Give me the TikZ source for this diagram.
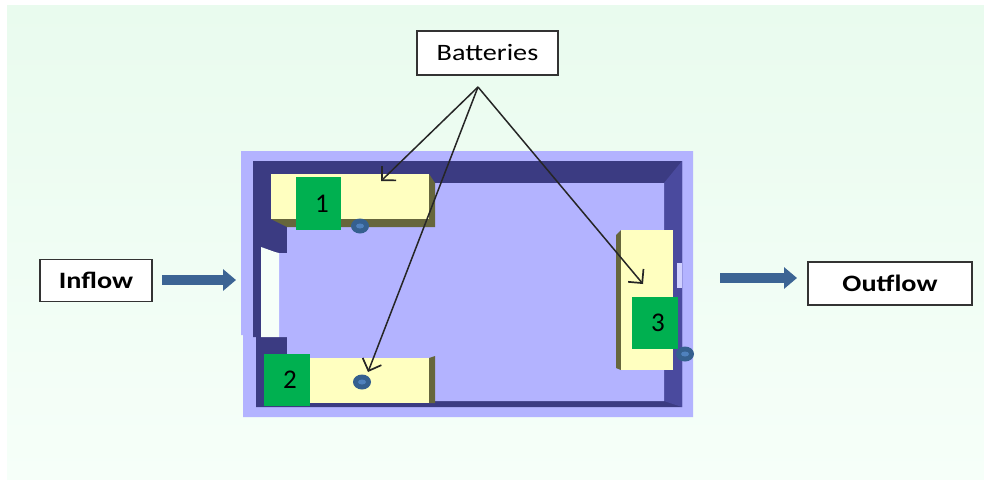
\documentclass[tikz,border=0pt]{standalone}
\usepackage{fontspec}
\usepackage{tikz}
\newfontfamily\labelfont[FakeStretch=1.2]{Carlito}
\setmainfont{Carlito}
\usetikzlibrary{
  arrows.meta,
  positioning,
  shapes.geometric}
\definecolor{floorblue}{HTML}{B3B3FF}
\definecolor{walldark}{HTML}{3B3B82}
\definecolor{wallright}{HTML}{4A4A9E}
\definecolor{batyellow}{HTML}{FFFFC0}
\definecolor{batshade}{HTML}{66663C}
\definecolor{numgreen}{HTML}{00B050}
\definecolor{flowblue}{HTML}{3C6494}
\definecolor{portblue}{HTML}{35608F}
\definecolor{portlight}{HTML}{4F81BD}
\definecolor{panelgreen}{HTML}{E9FBEE}
\definecolor{panelpale}{HTML}{F6FFF9}
\tikzset{
  labelbox/.style={draw=black!80,line width=1.6pt,fill=white,inner sep=0pt,font=\labelfont\fontsize{23.5}{25}\selectfont},
  numbox/.style={fill=numgreen,inner sep=0pt,font=\fontsize{27}{29}\selectfont},
  port/.style={ellipse,fill=portblue,inner sep=0pt,minimum width=18pt,minimum height=15pt},
  flowarrow/.style={draw=flowblue,line width=10pt,-{Triangle[length=13pt,width=21pt]}},
  pointer/.style={draw=black!85,line width=1.5pt,-{Straight Barb[length=10pt,width=20pt,line width=1.7pt]}}
}
\begin{document}
\begin{tikzpicture}[x=1pt,y=-1pt]
            \useasboundingbox (0,0) rectangle (984,479);
            \shade[top color=panelgreen,bottom color=panelpale] (7,5) rectangle (984,479);
            % tank
            \fill[floorblue] (241,151)--(693,151)--(693,417)--(243,417)--(243,335)--(241,335)--cycle;
            \fill[walldark] (253,161)--(682,161)--(682,407)--(256,407)--(256,337)--(253,337)--cycle;
            \fill[wallright] (664,183)--(682,161)--(682,407)--(664,401)--cycle;
            \fill[floorblue] (287,183)--(664,183)--(664,401)--(287,401)--(287,337)--(279,337)--(279,253)--(287,253)--cycle;
            \fill[panelpale] (261,247)--(275,252)--(279,253)--(279,337)--(261,337)--cycle;
            \fill[floorblue!60!white] (677,263) rectangle (682,288);
            % batteries
            \fill[batshade] (429,174)--(435,183)--(435,227)--(287,227)--(271,219)--cycle;
            \fill[batyellow] (271,174) rectangle (429,219);
            \fill[batshade] (429,358)--(435,356)--(435,403)--(429,403)--cycle;
            \fill[batyellow] (290,358) rectangle (429,403);
            \fill[batshade] (621,230)--(616,235)--(616,368)--(621,370)--cycle;
            \fill[batyellow] (621,230) rectangle (673,370);
            \node[numbox,minimum width=45pt,minimum height=53pt] (num1) at (318.5,203.5) {\hspace{7pt}1};
            \node[numbox,minimum width=46pt,minimum height=52pt] (num2) at (287,380) {\hspace{6pt}2};
            \node[numbox,minimum width=46pt,minimum height=52pt] (num3) at (655,323) {\hspace{6pt}3};
            \foreach \name/\px/\py in {port1/360/226,port2/362/382,port3/685/354}{
                \node[port] (\name) at (\px,\py) {};
                \fill[portlight] (\name) ellipse (4pt and 2.5pt);
            }
            % labels
            \node[labelbox,minimum width=141pt,minimum height=44pt] (batteries) at (487.5,53) {Batteries};
            \node[labelbox,minimum width=112pt,minimum height=42pt] (inflow) at (96,280.5) {\bfseries Inflow};
            \node[labelbox,minimum width=164pt,minimum height=43pt] (outflow) at (890,283.5) {\bfseries Outflow};
            \coordinate (inflowstart) at (162,280);
            \coordinate (inflowend) at (236,280);
            \coordinate (outflowstart) at (720,278);
            \coordinate (outflowend) at (797,278);
            \draw[flowarrow] (inflowstart)--(inflowend);
            \draw[flowarrow] (outflowstart)--(outflowend);
            \coordinate (fan) at (478,87);
            \coordinate (tip1) at (381,181);
            \coordinate (tip2) at (368,372);
            \coordinate (tip3) at (643,284);
            \foreach \t in {tip1,tip2,tip3}
                \draw[pointer] (fan)--(\t);
        \end{tikzpicture}
\end{document}
